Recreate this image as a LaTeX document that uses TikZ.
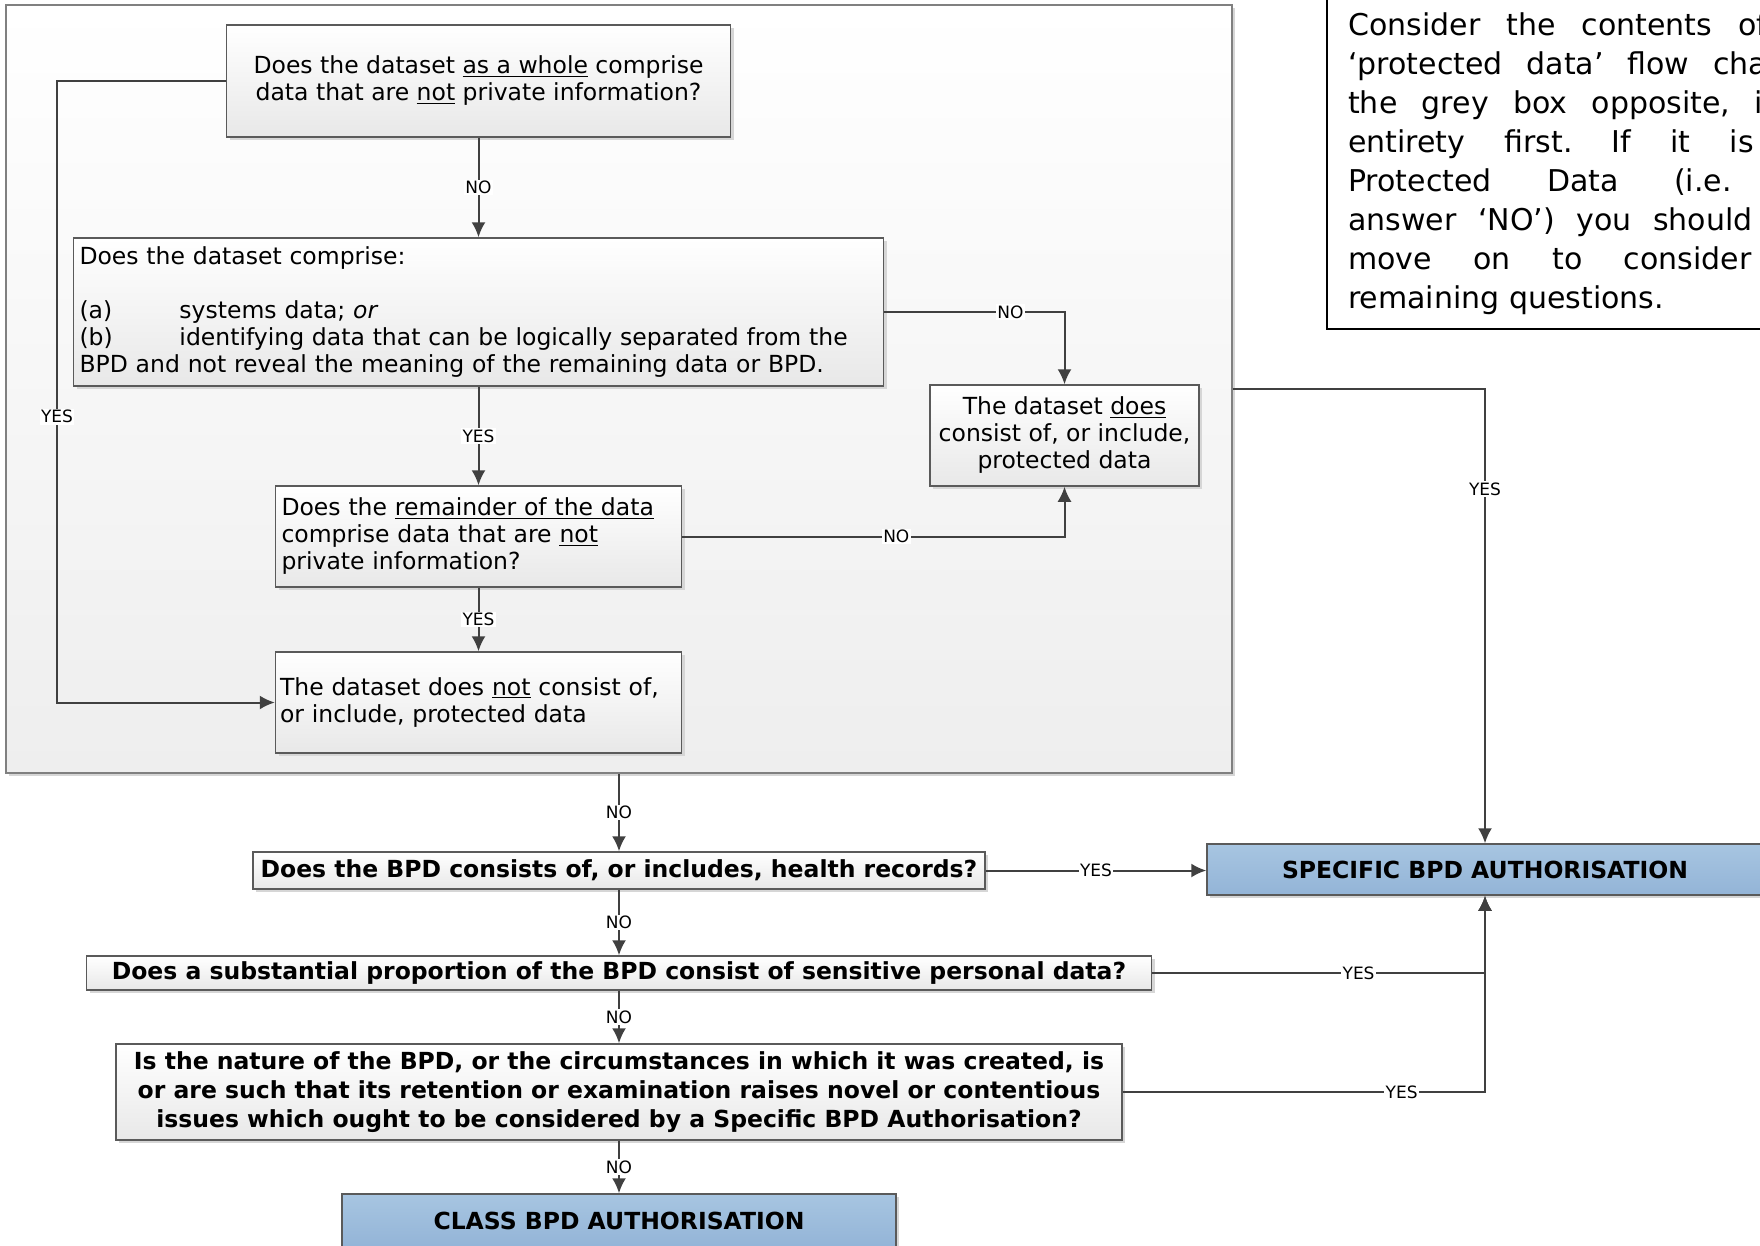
\documentclass[tikz,border=0pt]{standalone}
\usepackage{fontspec}
\setmainfont{DejaVu Sans}
\usetikzlibrary{arrows.meta,shadows}

\definecolor{linegrey}{HTML}{404040}
\definecolor{boxedge}{HTML}{5A5A5A}
\definecolor{boxlow}{HTML}{E8E8E8}
\definecolor{greylow}{HTML}{EEEEEE}
\definecolor{greyedge}{HTML}{808080}
\definecolor{shadowgrey}{HTML}{D6D6D6}
\definecolor{bluetop}{HTML}{A7C5E1}
\definecolor{bluelow}{HTML}{93B4D7}

\frenchspacing

\begin{document}
\begin{tikzpicture}[x=1pt,y=-1pt,
    every node/.style={font=\fontsize{23.5}{27}\selectfont},
    box/.style={draw=boxedge, line width=1.5pt, top color=white, bottom color=boxlow, inner sep=3pt,
      drop shadow={shadow xshift=3pt, shadow yshift=-3pt, fill=shadowgrey, opacity=1}},
    container/.style={draw=greyedge, line width=1.5pt, top color=white, bottom color=greylow,
      drop shadow={shadow xshift=3pt, shadow yshift=-3pt, fill=shadowgrey, opacity=1}},
    boldq/.style={box, align=center, font=\bfseries\fontsize{23.5}{28.6}\selectfont},
    bluebox/.style={box, top color=bluetop, bottom color=bluelow, font=\bfseries\fontsize{23.5}{27}\selectfont},
    lbl/.style={fill=white, inner sep=1.5pt, font=\fontsize{17}{19}\selectfont},
    arr/.style={draw=linegrey, line width=2pt, -{Latex[length=15pt,width=14pt]}},
  ]
  \useasboundingbox (0,0) rectangle (1760,1245);

  % protected data flow chart
  \node[container, minimum width=1226pt, minimum height=768pt] (grey) at (619,389) {};

  \node[box, align=center, minimum width=504pt, minimum height=112pt] (whole) at (478.5,81)
    {Does the dataset \underline{as a whole} comprise\\ data that are \underline{not} private information?};
  \node[box, align=left, text width=798pt, inner xsep=6pt, minimum height=148pt] (comprise) at (478.5,312)
    {Does the dataset comprise:\\[27pt]
     \makebox[100pt][l]{(a)}systems data; \emph{or}\\
     \makebox[100pt][l]{(b)}identifying data that can be logically separated from the\\
     BPD and not reveal the meaning of the remaining data or BPD.};
  \node[box, align=center, minimum width=269pt, minimum height=101pt] (does) at (1064.5,435.5)
    {The dataset \underline{does}\\ consist of, or include,\\ protected data};
  \node[box, align=left, text width=394pt, inner xsep=6pt, minimum height=101pt] (remainder) at (478.5,536.5)
    {Does the \underline{remainder of the data}\\ comprise data that are \underline{not}\\ private information?};
  \node[box, align=left, text width=397pt, inner xsep=4.5pt, minimum height=101pt] (doesnot) at (478.5,702.5)
    {The dataset does \underline{not} consist of,\\ or include, protected data};

  \coordinate (yesx) at (57,0);
  \draw[arr] (whole) -- node[lbl]{NO} (comprise);
  \draw[arr] (comprise.east) -| node[lbl,pos=0.35]{NO} (does.north);
  \draw[arr] (comprise) -- node[lbl]{YES} (remainder);
  \draw[arr] (remainder.east) -| node[lbl,pos=0.28]{NO} (does.south);
  \draw[arr] (remainder) -- node[lbl]{YES} (doesnot);
  \draw[arr] (whole.west) -- (whole.west -| yesx) |- node[lbl,pos=0.27]{YES} (doesnot.west);

  % note
  \node[fill=white, text width=494pt, align=justify, inner xsep=21pt, inner ysep=13.6pt,
    anchor=south west, font=\fontsize{30}{39}\selectfont] (note) at (1327,329)
    {Consider the contents of the\linebreak
     ‘protected data’ flow chart in\linebreak
     the grey box opposite, in its\linebreak
     entirety first. If it is not\linebreak
     Protected Data (i.e. you\linebreak
     answer ‘NO’) you should then\linebreak
     move on to consider the\linebreak
     remaining questions.};
  \draw[line width=2pt] ([yshift=30pt]note.north west) |- (note.south east) -- ([yshift=30pt]note.north east);

  % remaining questions
  \node[boldq, minimum width=732pt, minimum height=37pt] (health) at (619,870.5)
    {Does the BPD consists of, or includes, health records?};
  \node[bluebox, minimum width=556pt, minimum height=51pt] (specific) at (1485,869.5)
    {SPECIFIC BPD AUTHORISATION};
  \node[boldq, minimum width=1065pt, minimum height=34pt] (sensitive) at (619,973)
    {Does a substantial proportion of the BPD consist of sensitive personal data?};
  \node[boldq, minimum width=1006pt, minimum height=96pt] (novel) at (619,1092)
    {Is the nature of the BPD, or the circumstances in which it was created, is\\
     or are such that its retention or examination raises novel or contentious\\
     issues which ought to be considered by a Specific BPD Authorisation?};
  \node[bluebox, minimum width=554pt, minimum height=54pt] (class) at (619,1221)
    {CLASS BPD AUTHORISATION};

  \draw[arr] (grey.east) -| node[lbl,pos=0.61]{YES} (specific.north);
  \draw[arr] (grey) -- node[lbl]{NO} (health);
  \draw[arr] (health.east) -- node[lbl]{YES} (health.east -| specific.west);
  \draw[arr] (health) -- node[lbl]{NO} (sensitive);
  \draw[arr] (sensitive.east) -| node[lbl,pos=0.31]{YES} (specific.south);
  \draw[arr] (sensitive) -- node[lbl]{NO} (novel);
  \draw[arr] (novel.east) -| node[lbl,pos=0.385]{YES} (specific.south);
  \draw[arr] (novel) -- node[lbl]{NO} (class);
\end{tikzpicture}
\end{document}
